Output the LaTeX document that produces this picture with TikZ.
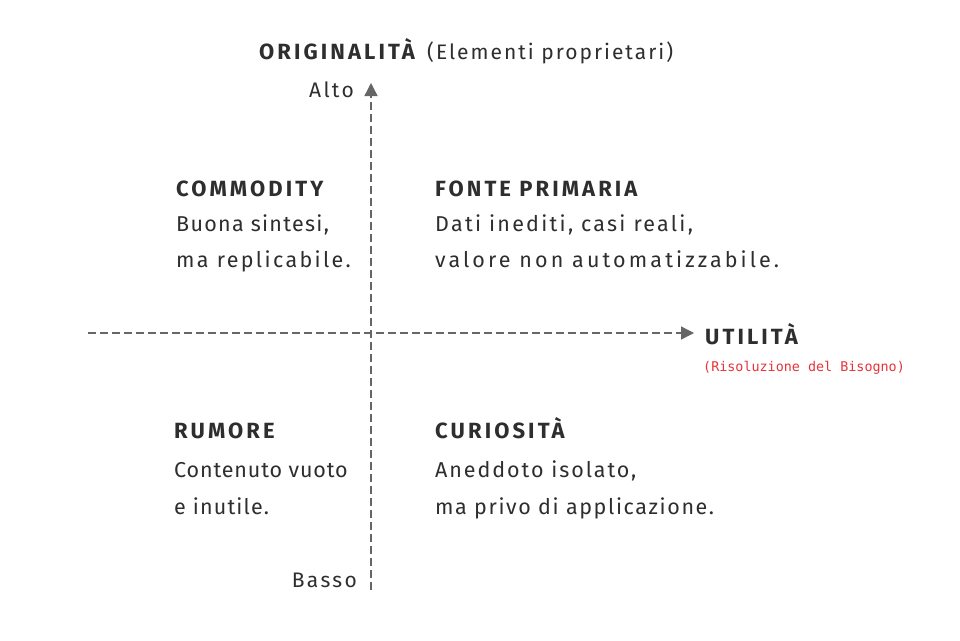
\documentclass[tikz,border=0pt]{standalone}
\usepackage{fontspec}
\setmainfont{Fira Sans}
\newfontfamily\headfont[LetterSpace=14]{Fira Sans}
\newfontfamily\redmono{DejaVu Sans Mono}
\usetikzlibrary{arrows.meta}
\definecolor{ink}{HTML}{2E2E2E}
\definecolor{axisgray}{HTML}{666666}
\definecolor{notered}{HTML}{E8333A}
\begin{document}
\begin{tikzpicture}[x=1pt,y=-1pt,
  axis/.style={draw=axisgray,line width=1.4pt,dash pattern=on 8pt off 4pt,
    -{Triangle[length=13pt,width=13pt]}},
  heading/.style={inner sep=0pt,anchor=base west,text=ink,font=\headfont\fontsize{22}{26}\selectfont\bfseries},
  body/.style={inner sep=0pt,anchor=base west,text=ink,
    font=\fontsize{21.5}{26}\selectfont\addfontfeature{LetterSpace=#1}},
  body/.default=9,
  label/.style={inner sep=0pt,text=ink,font=\fontsize{21}{25}\selectfont\addfontfeature{LetterSpace=11}}]
\useasboundingbox[fill=white] (0,0) rectangle (960,640);
% axes
\coordinate (vbot) at (371,590);
\coordinate (vtop) at (371,83);
\coordinate (hleft) at (88,333);
\coordinate (hright) at (694,333);
\draw[axis] (vbot) -- (vtop);
\draw[axis] (hleft) -- (hright);
% axis labels
\node[heading] (ytitle) at (259,59) {ORIGINALITÀ};
\node[label,anchor=base west,font=\fontsize{21}{26}\selectfont\addfontfeature{LetterSpace=9.5}] (ytitlesub) at (427,59)
  {(Elementi proprietari)};
\node[label,anchor=base east] (alto) at (354,97) {Alto};
\node[label,anchor=base east] (basso) at (357,587) {Basso};
\node[heading] (xtitle) at (705,344) {UTILITÀ};
\node[inner sep=0pt,anchor=base west,text=notered,font=\redmono\fontsize{13.4}{16}\selectfont] (xsub) at (703,371)
  {(Risoluzione del Bisogno)};
% quadrants
\node[heading] (commodity) at (176,196) {COMMODITY};
\node[body=6] (commodity1) at (176,231) {Buona sintesi,};
\node[body=11] (commodity2) at (176,267) {ma replicabile.};
\node[heading] (fonte) at (435,196) {FONTE PRIMARIA};
\node[body=10.5] (fonte1) at (435,231) {Dati inediti, casi reali,};
\node[body=14.5] (fonte2) at (435,267) {valore non automatizzabile.};
\node[heading] (rumore) at (174,438) {RUMORE};
\node[body=4] (rumore1) at (174,477) {Contenuto vuoto};
\node[body=5.5] (rumore2) at (174,514) {e inutile.};
\node[heading] (curiosita) at (435,438) {CURIOSITÀ};
\node[body=9] (curiosita1) at (435,477) {Aneddoto isolato,};
\node[body=7.5] (curiosita2) at (435,514) {ma privo di applicazione.};
\end{tikzpicture}
\end{document}
